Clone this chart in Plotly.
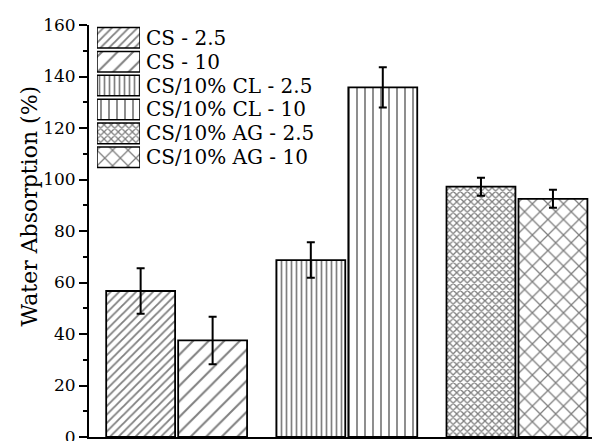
import plotly.graph_objects as go

# Water absorption of chitosan films (two concentrations per formulation)
groups = ["CS", "CS/10% CL", "CS/10% AG"]
series_names = ["CS - 2.5", "CS - 10", "CS/10% CL - 2.5", "CS/10% CL - 10",
                "CS/10% AG - 2.5", "CS/10% AG - 10"]
series_group = ["CS", "CS", "CS/10% CL", "CS/10% CL", "CS/10% AG", "CS/10% AG"]
absorption = [56.7, 37.5, 68.7, 135.8, 97.2, 92.5]
absorption_err = [8.8, 9.2, 6.9, 7.8, 3.5, 3.5]
y_ticks = [0, 20, 40, 60, 80, 100, 120, 140, 160]

# hatch styles: (shape, tile size, solidity)
hatches = [("/", 6, 0.3), ("/", 11, 0.18), ("|", 5, 0.34), ("|", 8, 0.22),
           ("x", 5, 0.45), ("x", 11, 0.22)]
bar_width = 0.405
offsets = [-0.414, 0.009] * 3

serif = "DejaVu Serif"
fig = go.Figure()

for i, name in enumerate(series_names):
    shape, size, solid = hatches[i]
    fig.add_trace(go.Bar(
        x=[series_group[i]], y=[absorption[i]], name=name,
        width=bar_width, offset=offsets[i],
        marker=dict(color="white", line=dict(color="black", width=1.8),
                    pattern=dict(shape=shape, size=size, solidity=solid,
                                 fgcolor="#000", bgcolor="white", fillmode="overlay")),
        error_y=dict(type="data", array=[absorption_err[i]], color="black",
                     thickness=2, width=4),
        showlegend=False,
    ))

# legend key: one hatched swatch per series on an inset axis
for i, name in enumerate(series_names):
    shape, size, solid = hatches[i]
    fig.add_trace(go.Bar(
        x=[1], y=[name], orientation="h", xaxis="x2", yaxis="y2",
        marker=dict(color="white", line=dict(color="black", width=1.5),
                    pattern=dict(shape=shape, size=size, solidity=solid,
                                 fgcolor="#000", bgcolor="white", fillmode="overlay")),
        showlegend=False, hoverinfo="skip",
    ))

fig.update_layout(
    width=592, height=441,
    margin=dict(l=89, r=0, t=25, b=4, autoexpand=False),
    paper_bgcolor="white", plot_bgcolor="white",
    barmode="overlay", bargap=0.14,
    font=dict(family=serif, color="black"),
    xaxis=dict(type="category", categoryorder="array", categoryarray=groups,
               range=[-0.515, 2.441], showline=True, linecolor="black",
               linewidth=2, showticklabels=False, ticks="", showgrid=False,
               zeroline=False, automargin=False),
    yaxis=dict(range=[0, 160], tickvals=y_ticks, ticks="outside", ticklen=8,
               tickwidth=2, tickcolor="black", showline=True, linecolor="black",
               linewidth=2, showgrid=False, zeroline=False,
               ticklabeloverflow="allow", automargin=False,
               tickfont=dict(family=serif, size=17, color="black"),
               minor=dict(dtick=10, ticks="outside", ticklen=4, tickwidth=2,
                          tickcolor="black", showgrid=False)),
    xaxis2=dict(domain=[0.0159, 0.1014], anchor="y2", range=[0, 1],
                visible=False, fixedrange=True),
    yaxis2=dict(domain=[0.650, 0.998], anchor="x2", type="category",
                categoryorder="array", categoryarray=series_names,
                tickmode="array", tickvals=series_names,
                autorange="reversed", side="right", showline=False,
                ticks="", showgrid=False, zeroline=False, automargin=False,
                ticklabelstandoff=5,
                tickfont=dict(family=serif, size=20, color="black")),
    annotations=[dict(text="Water Absorption (%)", textangle=-90,
                      xref="paper", yref="paper", x=-0.118, y=0.561,
                      xanchor="center", yanchor="middle", showarrow=False,
                      font=dict(family=serif, size=22, color="black"))],
)

fig.write_html("out.html")
